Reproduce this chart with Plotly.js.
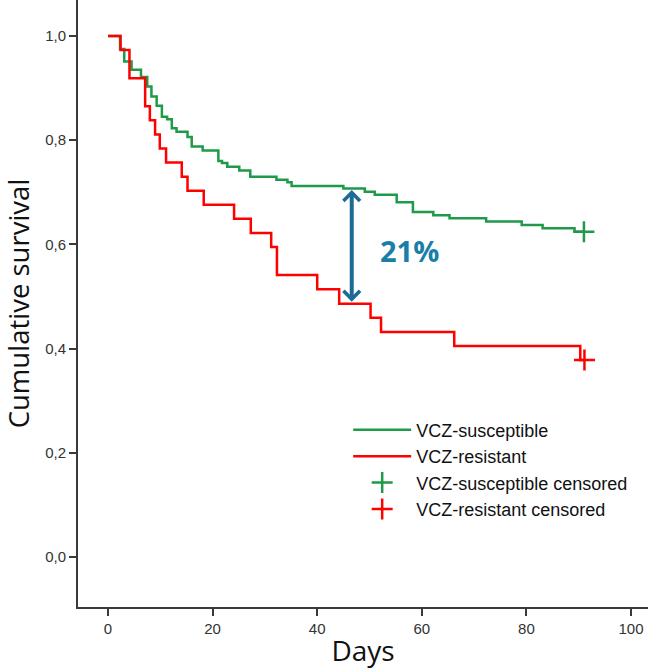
<!DOCTYPE html>
<html>
<head>
<meta charset="utf-8">
<script src="https://cdn.plot.ly/plotly-3.0.1.min.js"></script>
<style>
html,body{margin:0;padding:0;background:#fff;}
#chart{width:648px;height:669px;}
</style>
</head>
<body>
<div id="chart"></div>
<script>
// Kaplan-Meier step data
const susceptibleDays = [0, 2.3, 3.1, 4.5, 6.3, 7.5, 8.3, 9.3, 10.3, 11.3, 12.2, 13.1, 15.2, 16.0, 18.1, 21.1, 21.8, 22.8, 25.1, 27.2, 32.2, 34.3, 35.1, 45.0, 49.1, 51.0, 55.2, 58.3, 62.2, 65.3, 72.3, 79.1, 83.1, 89.2, 91.0];
const susceptibleSurv = [1.0, 0.975, 0.951, 0.935, 0.921, 0.903, 0.884, 0.866, 0.845, 0.840, 0.823, 0.816, 0.806, 0.788, 0.780, 0.760, 0.756, 0.749, 0.742, 0.730, 0.724, 0.719, 0.712, 0.707, 0.701, 0.695, 0.681, 0.662, 0.656, 0.650, 0.644, 0.637, 0.631, 0.624, 0.624];
const resistantDays = [0, 2.4, 4.1, 7.1, 8.0, 9.0, 9.9, 11.1, 14.1, 15.2, 18.3, 24.1, 27.3, 31.2, 32.3, 40.0, 44.2, 50.2, 52.2, 66.2, 90.3, 91.1];
const resistantSurv = [1.0, 0.973, 0.919, 0.865, 0.838, 0.811, 0.784, 0.757, 0.730, 0.703, 0.676, 0.649, 0.622, 0.595, 0.541, 0.514, 0.486, 0.459, 0.432, 0.405, 0.378, 0.378];
const susceptibleCensorDays = [91.0];
const susceptibleCensorSurv = [0.624];
const resistantCensorDays = [91.1];
const resistantCensorSurv = [0.378];
const seriesNames = ["VCZ-susceptible", "VCZ-resistant", "VCZ-susceptible censored", "VCZ-resistant censored"];
const xTicks = [0, 20, 40, 60, 80, 100];
const yTicks = [0, 0.2, 0.4, 0.6, 0.8, 1.0];
const gapLabel = "21%";
const gapDay = 46.6;
const gapTop = 0.707;
const gapBottom = 0.490;

const GREEN = "#1f9a48";
const RED = "#ff0000";

const traces = [
  {x: susceptibleDays, y: susceptibleSurv, name: seriesNames[0], mode: "lines",
   line: {shape: "hv", color: GREEN, width: 2.5}},
  {x: resistantDays, y: resistantSurv, name: seriesNames[1], mode: "lines",
   line: {shape: "hv", color: RED, width: 2.5}},
  {x: susceptibleCensorDays, y: susceptibleCensorSurv, name: seriesNames[2], mode: "markers",
   marker: {symbol: "cross-thin", size: 15, color: GREEN, line: {color: GREEN, width: 2.5}}},
  {x: resistantCensorDays, y: resistantCensorSurv, name: seriesNames[3], mode: "markers",
   marker: {symbol: "cross-thin", size: 15, color: RED, line: {color: RED, width: 2.5}}}
];

const axisCommon = {
  showgrid: false, zeroline: false, showline: true, linecolor: "#3a3a3a", linewidth: 2,
  ticks: "outside", ticklen: 7, tickwidth: 2, tickcolor: "#3a3a3a",
  tickfont: {family: "Liberation Sans, Arial, sans-serif", size: 15, color: "#333"}
};

const layout = {
  width: 648, height: 669,
  margin: {l: 78, r: 0, t: 0, b: 62},
  paper_bgcolor: "#fff", plot_bgcolor: "#fff",
  separators: ",.",
  showlegend: true,
  legend: {
    x: 0.474, y: 0.322, xanchor: "left", yanchor: "top",
    font: {family: "Liberation Sans, Arial, sans-serif", size: 18, color: "#111"},
    bgcolor: "rgba(0,0,0,0)", itemwidth: 58, tracegroupgap: 0, itemsizing: "trace"
  },
  xaxis: Object.assign({}, axisCommon, {
    range: [-5.74, 103.25], tickvals: xTicks, tickformat: "d",
    title: {text: "Days", font: {family: "Open Sans, sans-serif", size: 28, color: "#111"}, standoff: 6}
  }),
  yaxis: Object.assign({}, axisCommon, {
    range: [-0.096, 1.069], tickvals: yTicks, tickformat: ".1f",
    title: {text: "Cumulative survival", font: {family: "Open Sans, sans-serif", size: 27.5, color: "#111"}, standoff: 8}
  }),
  annotations: [
    {x: gapDay, y: gapBottom, ax: gapDay, ay: gapTop, xref: "x", yref: "y", axref: "x", ayref: "y",
     text: "", showarrow: true, arrowside: "end+start", arrowhead: 4, startarrowhead: 4,
     arrowwidth: 4, arrowsize: 0.8, startarrowsize: 0.8, arrowcolor: "#1b6b96", standoff: 0, startstandoff: 0},
    {x: 57.6, y: 0.588, xref: "x", yref: "y", text: "<b>" + gapLabel + "</b>", showarrow: false,
     font: {family: "Open Sans, sans-serif", size: 29, color: "#1a7fa8"}}
  ]
};

Plotly.newPlot("chart", traces, layout, {displayModeBar: false, staticPlot: true});
</script>
</body>
</html>
